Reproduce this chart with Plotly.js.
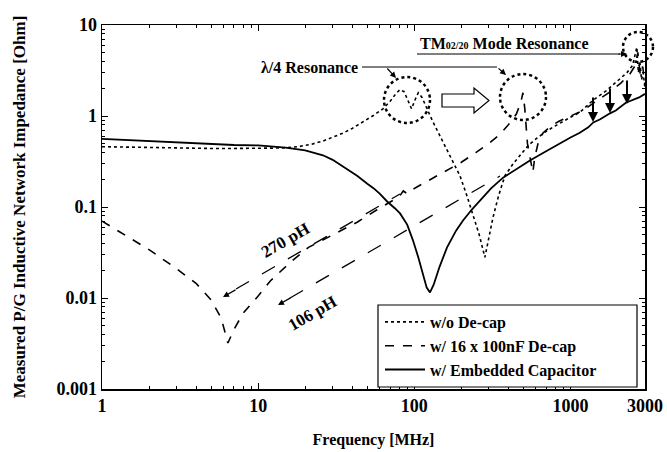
<!DOCTYPE html>
<html><head><meta charset="utf-8">
<script src="https://cdn.plot.ly/plotly-3.0.1.min.js"></script>
<style>html,body{margin:0;padding:0;background:#fff}#chart{width:667px;height:452px}</style>
</head><body><div id="chart"></div>
<script>
// ---- data ----
const seriesNames = ['w/o De-cap', 'w/ 16 x 100nF De-cap', 'w/ Embedded Capacitor'];

const freqNoDecap = [1, 2, 3, 5, 7, 10, 14, 18, 22, 26, 30, 35, 40, 47, 55, 63, 70, 76, 81, 86, 91, 96, 101, 106, 112, 120, 130, 150, 175, 196, 215, 237, 260, 283, 300, 318, 345, 380, 430, 474, 540, 609, 700, 800, 900, 1000, 1150, 1400, 1700, 2000, 2300, 2500, 2660, 2720, 2780, 2850, 2920, 3000];
const zNoDecap = [0.46, 0.45, 0.44, 0.44, 0.44, 0.44, 0.445, 0.46, 0.49, 0.53, 0.58, 0.65, 0.73, 0.86, 1.02, 1.2, 1.45, 1.75, 1.95, 1.85, 1.45, 1.2, 1.5, 1.8, 1.6, 1.2, 0.9, 0.55, 0.33, 0.22, 0.14, 0.085, 0.05, 0.028, 0.045, 0.075, 0.13, 0.22, 0.3, 0.37, 0.48, 0.57, 0.68, 0.78, 0.88, 0.97, 1.1, 1.5, 1.9, 2.4, 3.0, 3.6, 5.7, 3.0, 4.0, 2.5, 3.0, 2.0];

const freqDecap = [1, 1.5, 2, 3, 4, 5, 5.8, 6.4, 7, 8, 10, 12, 16, 21, 29, 43, 57, 70, 80, 85, 90, 100, 126, 160, 200, 250, 300, 350, 400, 450, 480, 496, 510, 530, 560, 574, 590, 620, 667, 750, 850, 1000, 1200, 1500, 1800, 2100, 2400, 2600, 2700, 2800, 2900, 3000];
const zDecap = [0.07, 0.046, 0.034, 0.021, 0.0145, 0.0095, 0.006, 0.0032, 0.0045, 0.0068, 0.0105, 0.0155, 0.0245, 0.036, 0.048, 0.068, 0.092, 0.115, 0.13, 0.15, 0.14, 0.16, 0.2, 0.25, 0.31, 0.4, 0.5, 0.62, 0.8, 1.05, 1.4, 1.8, 1.2, 0.5, 0.3, 0.24, 0.35, 0.5, 0.65, 0.78, 0.88, 1.0, 1.15, 1.5, 1.85, 2.3, 2.9, 3.6, 5.0, 2.8, 3.5, 2.2];

const freqEmbedded = [1, 2, 3, 5, 7, 10, 15, 20, 26, 30, 35, 43, 50, 55, 60, 67, 75, 81, 90, 98, 106, 113, 120, 126, 133, 145, 162, 185, 205, 235, 264, 310, 370, 450, 550, 680, 815, 1000, 1140, 1300, 1400, 1550, 1790, 1950, 2260, 2500, 2750, 3000];
const zEmbedded = [0.56, 0.53, 0.51, 0.49, 0.48, 0.475, 0.45, 0.42, 0.37, 0.33, 0.28, 0.22, 0.18, 0.16, 0.14, 0.115, 0.097, 0.085, 0.064, 0.043, 0.028, 0.0185, 0.013, 0.0115, 0.014, 0.022, 0.036, 0.055, 0.071, 0.095, 0.118, 0.16, 0.21, 0.26, 0.325, 0.4, 0.48, 0.58, 0.65, 0.75, 0.85, 0.92, 1.07, 1.15, 1.4, 1.5, 1.6, 1.75];

const xTickVals = [1, 10, 100, 1000, 3000];
const xTickText = ['1', '10', '100', '1000', '3000'];
const yTickVals = [0.001, 0.01, 0.1, 1, 10];
const yTickText = ['0.001', '0.01', '0.1', '1', '10'];

// ---- layout helpers (pixel -> paper) ----
const W = 667, H = 452, L = 102, R = 645, T = 25, B = 389;
const px = x => (x - L) / (R - L);
const py = y => (B - y) / (B - T);
const FONT = 'Liberation Serif, Times New Roman, serif';

function minorVals(lo, hi) {
  const v = [];
  for (let d = lo; d <= hi; d++) for (let m = 2; m <= 9; m++) v.push(m * Math.pow(10, d));
  return v;
}

const traces = [
  {x: freqNoDecap, y: zNoDecap, name: seriesNames[0], legendgroup: 'g1', mode: 'lines',
   line: {color: '#000', width: 1.6, dash: 'dot'}},
  {x: freqDecap, y: zDecap, name: seriesNames[1], legendgroup: 'g2', mode: 'lines',
   line: {color: '#000', width: 1.6, dash: 'dash'}},
  {x: freqEmbedded, y: zEmbedded, name: seriesNames[2], legendgroup: 'g3', mode: 'lines',
   line: {color: '#000', width: 1.8}}
];

function circle(cx, cy, r) {
  return {type: 'circle', xref: 'paper', yref: 'paper',
    x0: px(cx - r), x1: px(cx + r), y0: py(cy + r), y1: py(cy - r),
    line: {color: '#000', width: 2.5, dash: 'dot'}};
}
function seg(x0, y0, x1, y1, opts) {
  return Object.assign({type: 'line', xref: 'paper', yref: 'paper',
    x0: px(x0), y0: py(y0), x1: px(x1), y1: py(y1),
    line: {color: '#000', width: 1.2}}, opts || {});
}
function arrow(hx, hy, ax, ay, w) {
  return {xref: 'paper', yref: 'paper', x: px(hx), y: py(hy), ax: ax, ay: ay,
    text: '', showarrow: true, arrowhead: 2, arrowsize: 1, arrowwidth: w || 1.2, arrowcolor: '#000'};
}
// hollow block arrow path
const bx0 = 442, bx1 = 474, bx2 = 489, byTop = 94, byBot = 107, hTop = 88, hBot = 113, bMid = 100.5;
const blockPath = 'M' + px(bx0) + ',' + py(byTop) + ' L' + px(bx1) + ',' + py(byTop) + ' L' + px(bx1) + ',' + py(hTop) +
  ' L' + px(bx2) + ',' + py(bMid) + ' L' + px(bx1) + ',' + py(hBot) + ' L' + px(bx1) + ',' + py(byBot) +
  ' L' + px(bx0) + ',' + py(byBot) + ' Z';

const shapes = [
  circle(407, 100, 23),
  circle(523, 97, 23),
  circle(638, 47, 15),
  {type: 'path', xref: 'paper', yref: 'paper', path: blockPath, line: {color: '#000', width: 1.2}, fillcolor: 'rgba(0,0,0,0)'},
  seg(362, 67, 497, 67),
  seg(417, 54, 620, 54),
  seg(236, 289, 400, 194, {line: {color: '#000', width: 1.3, dash: 'longdash'}}),
  seg(290, 298, 500, 176, {line: {color: '#000', width: 1.3, dash: 'longdash'}}),
  // legend frame
  {type: 'rect', xref: 'paper', yref: 'paper', layer: 'above',
   x0: px(378), x1: px(637), y0: py(387), y1: py(305),
   line: {color: '#000', width: 1.2}, fillcolor: '#fff'}
];

const annotations = [
  {xref: 'paper', yref: 'paper', x: px(360), y: py(67), xanchor: 'right', yanchor: 'middle',
   text: 'λ/4 Resonance', showarrow: false, font: {family: FONT, size: 16, weight: 'bold', color: '#000'}},
  {xref: 'paper', yref: 'paper', x: px(418), y: py(43), xanchor: 'left', yanchor: 'middle',
   text: 'TM<span style="font-size:10px">02/20</span> Mode Resonance', showarrow: false,
   font: {family: FONT, size: 16, weight: 'bold', color: '#000'}},
  {xref: 'paper', yref: 'paper', x: px(285), y: py(240), xanchor: 'center', yanchor: 'middle', textangle: -30,
   text: '270 pH', showarrow: false, font: {family: FONT, size: 17, weight: 'bold', color: '#000'}},
  {xref: 'paper', yref: 'paper', x: px(312), y: py(313), xanchor: 'center', yanchor: 'middle', textangle: -30,
   text: '106 pH', showarrow: false, font: {family: FONT, size: 17, weight: 'bold', color: '#000'}},
  arrow(396, 78, -10, -11),
  arrow(506, 75, -9, -8),
  arrow(627, 54, -10, 0),
  arrow(223, 297, 14, -8),
  arrow(278, 305, 14, -8),
  arrow(593, 122, 0, -26, 2),
  arrow(610, 113, 0, -26, 2),
  arrow(627, 104, 0, -25, 2)
];

const axisCommon = {
  type: 'log', showline: true, linecolor: '#000', linewidth: 1.5, mirror: 'allticks',
  ticks: 'inside', ticklen: 6, tickwidth: 1, tickcolor: '#000', showgrid: false, zeroline: false,
  tickfont: {family: FONT, size: 18, weight: 'bold', color: '#000'}
};

const layout = {
  width: W, height: H,
  margin: {l: L, r: W - R, t: T, b: H - B},
  paper_bgcolor: '#fff', plot_bgcolor: '#fff',
  showlegend: true,
  legend: {x: px(380), y: py(305), xanchor: 'left', yanchor: 'top', bgcolor: 'rgba(0,0,0,0)',
    borderwidth: 0, font: {family: FONT, size: 16, weight: 'bold', color: '#000'},
    itemwidth: 40, tracegroupgap: 3, traceorder: 'normal'},
  xaxis: Object.assign({}, axisCommon, {
    range: [0, Math.log10(3000)], tickmode: 'array', tickvals: xTickVals, ticktext: xTickText,
    minor: {tickmode: 'array', tickvals: minorVals(0, 2), ticks: 'inside', ticklen: 3, tickcolor: '#000'},
    title: {text: 'Frequency [MHz]', standoff: 18, font: {family: FONT, size: 16, weight: 'bold', color: '#000'}}
  }),
  yaxis: Object.assign({}, axisCommon, {
    range: [-3, 1], tickmode: 'array', tickvals: yTickVals, ticktext: yTickText,
    minor: {tickmode: 'array', tickvals: minorVals(-3, 0), ticks: 'inside', ticklen: 3, tickcolor: '#000'},
    title: {text: 'Measured P/G Inductive Network Impedance [Ohm]', standoff: 26,
      font: {family: FONT, size: 17, weight: 'bold', color: '#000'}}
  }),
  shapes: shapes,
  annotations: annotations
};

Plotly.newPlot('chart', traces, layout, {staticPlot: true, displayModeBar: false});
</script>
</body></html>
